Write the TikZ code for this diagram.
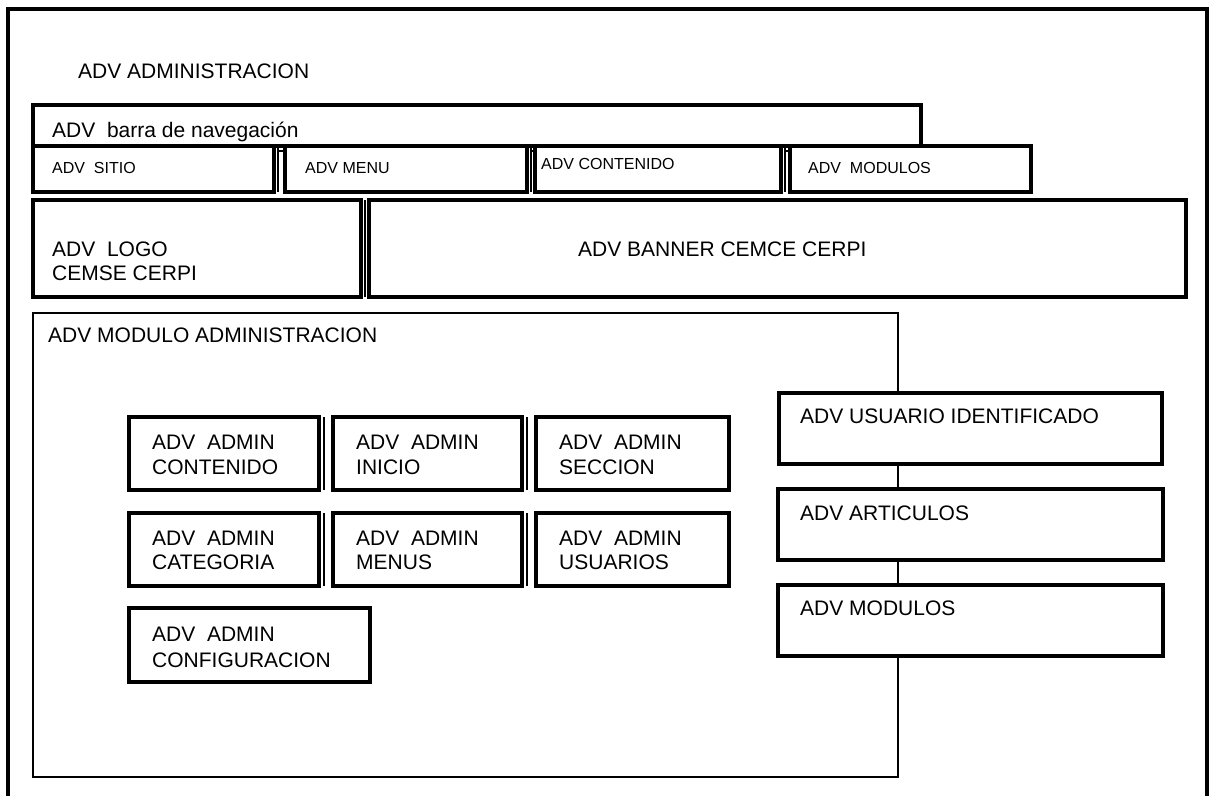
\documentclass[tikz,border=0pt]{standalone}
\usepackage{fontspec}
\setmainfont{Liberation Sans}
\begin{document}
\begin{tikzpicture}[x=1pt,y=-1pt,
  frameline/.style={line width=3.4pt},
  box/.style={draw, line width=3.2pt, rectangle, inner sep=0pt, outer sep=0pt,
              anchor=north west, fill=white},
  shade/.style={line width=1.8pt},
  link/.style={draw, line width=2.6pt},
  big/.style={font=\fontsize{21}{25}\selectfont, anchor=base west, inner sep=0pt},
  small/.style={font=\fontsize{16}{19}\selectfont, anchor=base west, inner sep=0pt}]

% page area
\useasboundingbox (0,0) rectangle (1212,796);

% open outer frame
\coordinate (fbl) at (8,796);
\coordinate (ftl) at (8,9);
\coordinate (ftr) at (1207,9);
\coordinate (fbr) at (1207,796);
\draw[frameline] (fbl) -- (ftl) -- (ftr) -- (fbr);

\node[big] (title) at (78,78) {ADV ADMINISTRACION};

% navigation bar and its items
\node[box, minimum width=888, minimum height=41] (nav) at (33,105) {};
\node[big] (navtxt) at (52,137) {ADV\ \ barra de navegación};

\node[box, minimum width=241, minimum height=46] (sitio) at (33,146) {};
\node[box, minimum width=242, minimum height=46] (menu) at (285,146) {};
\node[box, minimum width=246, minimum height=46] (cont) at (535,146) {};
\node[box, minimum width=241, minimum height=46] (modn) at (790,146) {};

\draw[shade] ([xshift=4]sitio.north east) -- ([xshift=4]sitio.south east);
\draw[shade] ([xshift=4]menu.north east) -- ([xshift=4]menu.south east);
\draw[shade] ([xshift=4]cont.north east) -- ([xshift=4]cont.south east);
\draw[link] ([xshift=4,yshift=-5]sitio.north east) -- ([yshift=-5]menu.north west);
\draw[link] ([xshift=4,yshift=-5]menu.north east) -- ([yshift=-5]cont.north west);
\draw[link] ([xshift=4,yshift=-5]cont.north east) -- ([yshift=-5]modn.north west);

\node[small] (sitiotxt) at (52,173) {ADV\ \ SITIO};
\node[small] (menutxt) at (305,173) {ADV MENU};
\node[small] (conttxt) at (541,169) {ADV CONTENIDO};
\node[small] (modntxt) at (808,173) {ADV\ \ MODULOS};

% logo and banner
\node[box, minimum width=328, minimum height=97] (logo) at (33,200) {};
\draw[shade] ([xshift=4]logo.north east) -- ([xshift=4]logo.south east);
\node[box, minimum width=817, minimum height=97] (banner) at (369,200) {};
\node[big] (logotxt) at (52,256) {ADV\ \ LOGO};
\node[big] (logotxt2) at (52,280) {CEMSE CERPI};
\node[big] (bannertxt) at (578,256) {ADV BANNER CEMCE CERPI};

% administration module
\node[box, line width=2.6pt, fill=none, minimum width=865, minimum height=464] (mod) at (33,313) {};
\node[big] (modtxt) at (48,342) {ADV MODULO ADMINISTRACION};

% admin panels
\node[box, minimum width=190, minimum height=73] (a1) at (129,417) {};
\node[box, minimum width=189, minimum height=73] (a2) at (333,417) {};
\node[box, minimum width=193, minimum height=73] (a3) at (536,417) {};
\node[box, minimum width=190, minimum height=73] (b1) at (129,513) {};
\node[box, minimum width=189, minimum height=73] (b2) at (333,513) {};
\node[box, minimum width=193, minimum height=73] (b3) at (536,513) {};
\node[box, minimum width=241, minimum height=74] (c1) at (129,608) {};
\foreach \n in {a1,a2,b1,b2}
  \draw[shade] ([xshift=5]\n.north east) -- ([xshift=5]\n.south east);

\node[big] (a1t) at (152,449) {ADV\ \ ADMIN};
\node[big] (a1u) at (152,474) {CONTENIDO};
\node[big] (a2t) at (356,449) {ADV\ \ ADMIN};
\node[big] (a2u) at (356,474) {INICIO};
\node[big] (a3t) at (559,449) {ADV\ \ ADMIN};
\node[big] (a3u) at (559,474) {SECCION};
\node[big] (b1t) at (152,545) {ADV\ \ ADMIN};
\node[big] (b1u) at (152,569) {CATEGORIA};
\node[big] (b2t) at (356,545) {ADV\ \ ADMIN};
\node[big] (b2u) at (356,569) {MENUS};
\node[big] (b3t) at (559,545) {ADV\ \ ADMIN};
\node[big] (b3u) at (559,569) {USUARIOS};
\node[big] (c1t) at (152,641) {ADV\ \ ADMIN};
\node[big] (c1u) at (152,667) {CONFIGURACION};

% right column, threaded on the module's right edge
\node[box, minimum width=383, minimum height=71] (usr) at (779,393) {};
\node[box, minimum width=385, minimum height=71] (art) at (778,489) {};
\node[box, minimum width=385, minimum height=71] (modr) at (778,585) {};
\node[big] (usrtxt) at (800,423) {ADV USUARIO IDENTIFICADO};
\node[big] (arttxt) at (800,520) {ADV ARTICULOS};
\node[big] (modrtxt) at (800,615) {ADV MODULOS};
\end{tikzpicture}
\end{document}
